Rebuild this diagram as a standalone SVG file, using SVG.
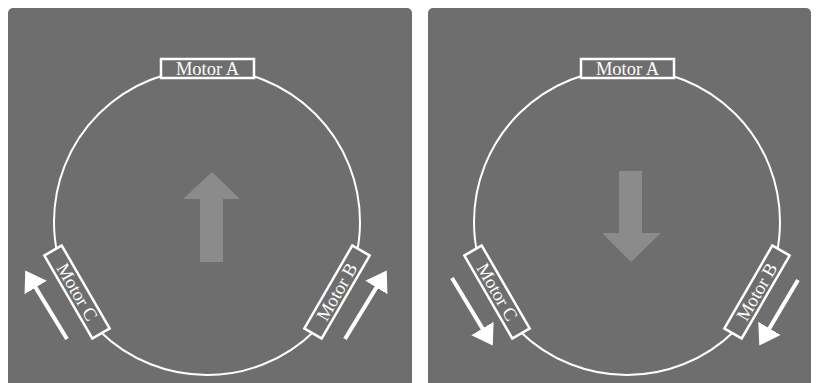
<svg xmlns="http://www.w3.org/2000/svg" width="819" height="383" viewBox="0 0 819 383">
<style>
.panel{fill:#6e6e6e}
.ring{fill:none;stroke:#fff;stroke-width:2}
.box{fill:#6e6e6e;stroke:#fff;stroke-width:2.5}
.lbl{font-family:"Liberation Serif",serif;font-size:18.5px;fill:#fff;text-anchor:middle;dominant-baseline:central}
.big{fill:#8b8b8b}
.warr{fill:none;stroke:#fff;stroke-width:4;marker-end:url(#ah)}
</style>
<defs>
  <marker id="ah" markerUnits="userSpaceOnUse" viewBox="0 0 20 26" markerWidth="20" markerHeight="26" refX="0.5" refY="13" orient="auto">
    <path d="M0,0 L20,13 L0,26 Z" fill="#fff"/>
  </marker>
</defs>
<rect width="819" height="383" fill="#fff"/>
<rect class="panel" x="8" y="8" width="404" height="385" rx="5"/>
<rect class="panel" x="428" y="8" width="383" height="385" rx="5"/>

<g id="left-panel">
  <circle class="ring" cx="207" cy="222" r="153"/>
  <g id="left-motor-a">
    <rect class="box" x="161" y="59" width="93" height="19"/>
    <text class="lbl" x="207.5" y="69">Motor A</text>
  </g>
  <g id="left-motor-c" transform="translate(77,292) rotate(60)">
    <rect class="box" x="-48" y="-10" width="96" height="20"/>
    <text class="lbl" x="0" y="0">Motor C</text>
  </g>
  <g id="left-motor-b" transform="translate(337,292) rotate(-60)">
    <rect class="box" x="-48" y="-10" width="96" height="20"/>
    <text class="lbl" x="0" y="0">Motor B</text>
  </g>
  <g id="left-direction">
    <polygon class="big" points="212,172 240,199 223,199 223,262 200,262 200,199 183,199"/>
  </g>
</g>

<g id="right-panel">
  <circle class="ring" cx="627" cy="222" r="153"/>
  <g id="right-motor-a">
    <rect class="box" x="581" y="59" width="93" height="19"/>
    <text class="lbl" x="627.5" y="69">Motor A</text>
  </g>
  <g id="right-motor-c" transform="translate(497,292) rotate(60)">
    <rect class="box" x="-48" y="-10" width="96" height="20"/>
    <text class="lbl" x="0" y="0">Motor C</text>
  </g>
  <g id="right-motor-b" transform="translate(757,292) rotate(-60)">
    <rect class="box" x="-48" y="-10" width="96" height="20"/>
    <text class="lbl" x="0" y="0">Motor B</text>
  </g>
  <g id="right-direction">
    <polygon class="big" points="619,171 642,171 642,233 661,233 631,262 602,233 619,233"/>
  </g>
</g>

<g id="connectors">
  <line class="warr" x1="67" y1="339" x2="35.4" y2="287.1"/>
  <line class="warr" x1="345" y1="339" x2="376.6" y2="287.1"/>
  <line class="warr" x1="452" y1="278" x2="482.7" y2="328.9"/>
  <line class="warr" x1="798" y1="280" x2="769.2" y2="328.8"/>
</g>
</svg>
